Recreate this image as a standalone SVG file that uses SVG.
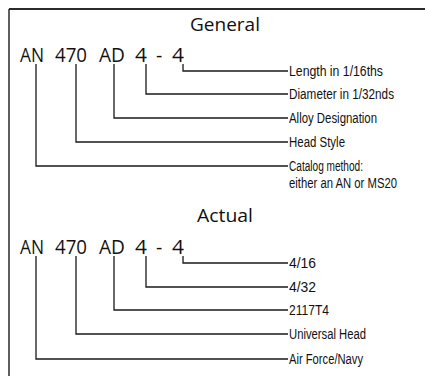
<svg xmlns="http://www.w3.org/2000/svg" width="425" height="376" viewBox="0 0 425 376">
<style>
.frame{fill:none;stroke:#2a2a2a}
.conn{fill:none;stroke:#1a1a1a;stroke-width:1.3}
.title{font-family:"Open Sans","Liberation Sans",sans-serif;font-size:19px;fill:#111}
.code{font-family:"Open Sans","Liberation Sans",sans-serif;font-size:19.5px;fill:#111}
.lbl{font-family:"Liberation Sans","DejaVu Sans",sans-serif;font-size:14px;fill:#111}
</style>
<rect width="425" height="376" fill="#fff"/>
<g id="frame">
<line class="frame" x1="9" y1="9" x2="425" y2="9" stroke-width="2"/>
<line class="frame" x1="9" y1="9" x2="9" y2="376" stroke-width="1.5"/>
</g>
<g id="connectors">
<path class="conn" d="M36,64 V166 H288"/>
<path class="conn" d="M76,64 V142 H288"/>
<path class="conn" d="M114,64 V118 H288"/>
<path class="conn" d="M146,64 V94 H288"/>
<path class="conn" d="M183,64 V71 H288"/>
<path class="conn" d="M36,256 V359 H288"/>
<path class="conn" d="M76,256 V334 H288"/>
<path class="conn" d="M114,256 V310 H288"/>
<path class="conn" d="M146,256 V287 H288"/>
<path class="conn" d="M183,256 V263 H288"/>
</g>
<g id="general-title"><text class="title" x="190" y="31" textLength="70" lengthAdjust="spacingAndGlyphs">General</text></g>
<g id="general-code">
<text class="code" x="20" y="62" textLength="24" lengthAdjust="spacingAndGlyphs">AN</text>
<text class="code" x="55" y="62" textLength="32" lengthAdjust="spacingAndGlyphs">470</text>
<text class="code" x="99" y="62" textLength="26" lengthAdjust="spacingAndGlyphs">AD</text>
<text class="code" x="135" y="62" textLength="12" lengthAdjust="spacingAndGlyphs">4</text>
<text class="code" x="156" y="62">-</text>
<text class="code" x="172" y="62" textLength="12" lengthAdjust="spacingAndGlyphs">4</text>
</g>
<g id="label-length"><text class="lbl" x="289" y="76" textLength="94" lengthAdjust="spacingAndGlyphs">Length in 1/16ths</text></g>
<g id="label-diameter"><text class="lbl" x="289" y="99" textLength="105" lengthAdjust="spacingAndGlyphs">Diameter in 1/32nds</text></g>
<g id="label-alloy"><text class="lbl" x="289" y="123" textLength="88" lengthAdjust="spacingAndGlyphs">Alloy Designation</text></g>
<g id="label-head"><text class="lbl" x="289" y="147" textLength="56" lengthAdjust="spacingAndGlyphs">Head Style</text></g>
<g id="label-catalog">
<text class="lbl" x="289" y="171" textLength="74" lengthAdjust="spacingAndGlyphs">Catalog method:</text>
<text class="lbl" x="289" y="188" textLength="108" lengthAdjust="spacingAndGlyphs">either an AN or MS20</text>
</g>
<g id="actual-title"><text class="title" x="197" y="222" textLength="56" lengthAdjust="spacingAndGlyphs">Actual</text></g>
<g id="actual-code">
<text class="code" x="20" y="254" textLength="24" lengthAdjust="spacingAndGlyphs">AN</text>
<text class="code" x="55" y="254" textLength="32" lengthAdjust="spacingAndGlyphs">470</text>
<text class="code" x="99" y="254" textLength="26" lengthAdjust="spacingAndGlyphs">AD</text>
<text class="code" x="135" y="254" textLength="12" lengthAdjust="spacingAndGlyphs">4</text>
<text class="code" x="156" y="254">-</text>
<text class="code" x="172" y="254" textLength="12" lengthAdjust="spacingAndGlyphs">4</text>
</g>
<g id="label-416"><text class="lbl" x="289" y="268" textLength="27" lengthAdjust="spacingAndGlyphs">4/16</text></g>
<g id="label-432"><text class="lbl" x="289" y="292" textLength="27" lengthAdjust="spacingAndGlyphs">4/32</text></g>
<g id="label-2117"><text class="lbl" x="289" y="315" textLength="40" lengthAdjust="spacingAndGlyphs">2117T4</text></g>
<g id="label-universal"><text class="lbl" x="289" y="339" textLength="77" lengthAdjust="spacingAndGlyphs">Universal Head</text></g>
<g id="label-airforce"><text class="lbl" x="289" y="364" textLength="74" lengthAdjust="spacingAndGlyphs">Air Force/Navy</text></g>
</svg>
